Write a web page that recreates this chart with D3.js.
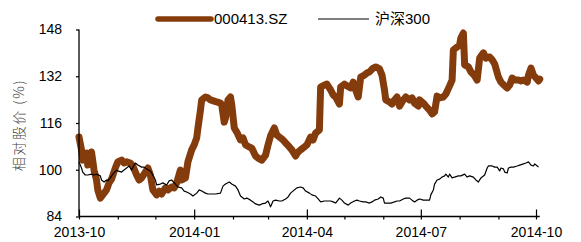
<!DOCTYPE html>
<html>
<head>
<meta charset="utf-8">
<script src="https://d3js.org/d3.v7.min.js"></script>
<style>
  html, body { margin: 0; padding: 0; background: #fff; }
  text { font-family: "Liberation Sans", Arial, sans-serif; }
</style>
</head>
<body>
<div id="chart"></div>
<script>
// chart size
var w = 581, h = 242;
var plotLeft = 79, plotRight = 536, plotTop = 29.5, plotBottom = 216.5;

// y ticks
var yTicks = [84, 100, 116, 132, 148];
var seriesNames = ["000413.SZ", "沪深300"];

// 000413.SZ, relative price (%)
var stockDates = [
  "2013-10-01","2013-10-03","2013-10-04","2013-10-05","2013-10-07","2013-10-08","2013-10-10","2013-10-11","2013-10-13","2013-10-15","2013-10-16","2013-10-18","2013-10-20","2013-10-23","2013-10-25","2013-10-27","2013-10-30",
  "2013-11-01","2013-11-04","2013-11-06","2013-11-08","2013-11-11","2013-11-13","2013-11-16","2013-11-18","2013-11-20","2013-11-23","2013-11-25","2013-11-27","2013-11-29",
  "2013-12-02","2013-12-04","2013-12-06","2013-12-09","2013-12-11","2013-12-14","2013-12-16","2013-12-18","2013-12-21","2013-12-22","2013-12-25","2013-12-27","2013-12-30",
  "2014-01-01","2014-01-03","2014-01-04","2014-01-06","2014-01-07","2014-01-10","2014-01-12","2014-01-14","2014-01-17","2014-01-19","2014-01-22","2014-01-23","2014-01-25","2014-01-26","2014-01-28","2014-01-30","2014-01-31",
  "2014-02-02","2014-02-04","2014-02-07","2014-02-09","2014-02-11","2014-02-14","2014-02-16","2014-02-19","2014-02-21","2014-02-24","2014-02-27",
  "2014-03-01","2014-03-03","2014-03-06","2014-03-08","2014-03-11","2014-03-13","2014-03-15","2014-03-18","2014-03-20","2014-03-23","2014-03-25","2014-03-27","2014-03-30",
  "2014-04-01","2014-04-04","2014-04-06","2014-04-08","2014-04-11","2014-04-12","2014-04-15","2014-04-17","2014-04-20","2014-04-22","2014-04-24","2014-04-27","2014-04-28",
  "2014-05-01","2014-05-03","2014-05-06","2014-05-08","2014-05-10","2014-05-12","2014-05-14","2014-05-17","2014-05-19","2014-05-21","2014-05-24","2014-05-26","2014-05-29","2014-05-31",
  "2014-06-02","2014-06-03","2014-06-06","2014-06-08","2014-06-10","2014-06-12","2014-06-14","2014-06-17","2014-06-19","2014-06-22","2014-06-24","2014-06-26","2014-06-29","2014-06-30",
  "2014-07-03","2014-07-05","2014-07-08","2014-07-10","2014-07-12","2014-07-14","2014-07-16","2014-07-19","2014-07-21","2014-07-24","2014-07-26","2014-07-27","2014-07-29",
  "2014-08-01","2014-08-02","2014-08-04","2014-08-05","2014-08-08","2014-08-10","2014-08-13","2014-08-15","2014-08-17","2014-08-20","2014-08-22","2014-08-25","2014-08-27","2014-08-29",
  "2014-09-01","2014-09-03","2014-09-06","2014-09-08","2014-09-10","2014-09-12","2014-09-14","2014-09-17","2014-09-19","2014-09-21","2014-09-24","2014-09-25","2014-09-27","2014-09-29",
  "2014-10-01","2014-10-03","2014-10-04"
];
var stockValues = [
  111.2,106.8,103.3,105.0,105.7,101.6,104.0,106.1,99.9,96.5,93.1,90.3,91.4,93.1,95.5,96.8,100.6,
  102.7,103.3,102.3,102.7,102.3,101.3,98.2,96.5,97.2,99.2,100.6,98.2,93.1,
  91.4,92.7,91.7,93.8,93.1,94.1,93.8,95.5,99.9,96.5,97.2,102.7,106.8,
  108.5,110.9,114.3,120.4,123.9,124.9,124.6,123.9,123.5,123.2,122.8,122.2,116.3,117.7,123.9,124.9,122.2,
  114.3,112.9,110.2,110.9,108.5,107.8,107.4,104.7,104.0,103.3,105.0,
  108.5,111.6,114.3,111.9,110.9,110.2,109.2,107.8,106.8,104.7,106.1,106.8,107.8,
  108.5,111.2,110.2,112.6,113.6,128.3,129.0,129.3,127.3,125.6,124.9,122.5,128.3,
  129.3,128.7,128.0,130.0,127.3,124.9,131.7,132.4,133.1,133.5,134.8,135.2,134.5,132.4,
  127.3,123.9,123.2,122.5,123.9,124.9,121.8,123.9,124.9,123.9,124.6,122.8,121.8,123.9,
  122.8,121.8,120.4,119.1,119.8,125.2,124.6,124.9,125.9,128.7,130.7,141.0,141.7,
  142.7,145.1,146.8,135.9,135.2,133.5,132.1,130.7,138.2,140.0,138.2,138.6,137.6,136.2,
  131.7,130.0,128.7,128.0,129.0,131.4,130.7,130.7,130.4,130.7,130.0,132.4,134.8,132.4,
  131.4,130.4,131.0
];

// 沪深300, relative (%)
var indexDates = [
  "2013-10-01","2013-10-03","2013-10-04","2013-10-06","2013-10-08","2013-10-11","2013-10-13","2013-10-15","2013-10-18","2013-10-19","2013-10-21","2013-10-23","2013-10-24","2013-10-26","2013-10-28","2013-10-31",
  "2013-11-01","2013-11-04","2013-11-06","2013-11-08","2013-11-10","2013-11-12","2013-11-14","2013-11-15","2013-11-17","2013-11-20","2013-11-22","2013-11-24","2013-11-27","2013-11-29",
  "2013-12-01","2013-12-02","2013-12-05","2013-12-07","2013-12-10","2013-12-12","2013-12-14","2013-12-17","2013-12-19","2013-12-22","2013-12-24","2013-12-26","2013-12-29","2013-12-31",
  "2014-01-03","2014-01-05","2014-01-07","2014-01-10","2014-01-12","2014-01-15","2014-01-18","2014-01-22","2014-01-24","2014-01-26","2014-01-29","2014-01-31",
  "2014-02-03","2014-02-05","2014-02-07","2014-02-10","2014-02-12","2014-02-15","2014-02-17","2014-02-19","2014-02-22","2014-02-24","2014-02-27",
  "2014-03-01","2014-03-03","2014-03-05","2014-03-07","2014-03-10","2014-03-12","2014-03-15","2014-03-17","2014-03-19","2014-03-22","2014-03-24","2014-03-27","2014-03-29","2014-03-31",
  "2014-04-03","2014-04-05","2014-04-08","2014-04-10","2014-04-12","2014-04-15","2014-04-17","2014-04-20","2014-04-22","2014-04-24","2014-04-27","2014-04-29",
  "2014-05-01","2014-05-04","2014-05-06","2014-05-09","2014-05-11","2014-05-13","2014-05-16","2014-05-18","2014-05-21","2014-05-23","2014-05-25","2014-05-28","2014-05-30",
  "2014-06-01","2014-06-02","2014-06-05","2014-06-07","2014-06-10","2014-06-12","2014-06-14","2014-06-17","2014-06-19","2014-06-22","2014-06-24","2014-06-26","2014-06-28","2014-06-30",
  "2014-07-03","2014-07-05","2014-07-08","2014-07-09","2014-07-11","2014-07-12","2014-07-14","2014-07-16","2014-07-18","2014-07-20","2014-07-21","2014-07-23","2014-07-24","2014-07-26","2014-07-28","2014-07-31",
  "2014-08-02","2014-08-05","2014-08-07","2014-08-09","2014-08-12","2014-08-14","2014-08-16","2014-08-18","2014-08-21","2014-08-23","2014-08-24","2014-08-27","2014-08-29","2014-08-31",
  "2014-09-02","2014-09-03","2014-09-05","2014-09-06","2014-09-08","2014-09-09","2014-09-11","2014-09-13","2014-09-16","2014-09-18","2014-09-21","2014-09-23","2014-09-25","2014-09-27","2014-09-29","2014-09-30",
  "2014-10-02","2014-10-03"
];
var indexValues = [
  102.7,100.6,99.2,98.2,98.2,98.5,98.2,98.5,97.9,96.5,95.8,96.5,96.2,97.2,98.5,99.9,
  99.6,99.2,99.9,100.6,101.3,99.9,101.6,102.3,101.6,100.9,100.9,100.3,99.6,98.2,
  96.5,94.8,95.1,95.5,94.8,96.2,96.5,95.1,94.1,93.8,92.7,92.4,91.7,91.0,
  92.0,93.1,92.7,92.0,91.7,91.7,91.7,92.0,94.4,95.1,95.8,95.1,
  94.4,93.1,91.0,90.0,90.3,89.6,89.0,88.3,87.9,88.3,88.6,
  89.3,87.3,89.3,89.6,89.3,89.3,90.0,90.7,92.0,93.1,93.8,94.1,93.8,92.7,
  92.0,91.4,91.0,90.0,89.0,89.3,89.3,89.3,89.0,88.6,90.3,89.6,
  88.6,87.9,88.6,89.3,89.6,89.3,89.0,89.0,88.6,89.0,89.6,90.0,90.7,
  90.3,88.6,88.6,88.6,89.0,89.3,89.3,90.0,90.3,90.3,89.6,89.0,89.6,90.0,
  89.6,89.6,89.6,91.4,93.1,95.1,96.5,96.8,97.5,97.9,98.5,97.5,98.5,97.2,97.5,97.9,
  97.9,98.5,97.5,97.9,97.5,96.5,95.8,97.2,98.2,100.6,101.3,101.3,100.9,100.9,
  99.6,100.6,100.3,99.2,98.9,100.6,100.9,100.9,101.3,101.6,102.0,102.3,102.7,101.6,101.3,102.0,
  101.3,100.9
];

var parseDate = d3.timeParse("%Y-%m-%d");
var stock = stockDates.map(function(d, i) { return {date: parseDate(d), value: stockValues[i]}; });
var index = indexDates.map(function(d, i) { return {date: parseDate(d), value: indexValues[i]}; });

// scales
var xScale = d3.scaleTime()
    .domain([parseDate("2013-10-01"), parseDate("2014-10-01")])
    .range([plotLeft, plotRight]);
var yScale = d3.scaleLinear().domain([84, 148]).range([plotBottom, plotTop]);
var xEnd = xScale(parseDate("2014-10-04"));

var svg = d3.select("#chart")
    .append("svg")
    .attr("width", w)
    .attr("height", h)
    .style("display", "block");

svg.append("rect").attr("width", w).attr("height", h).attr("fill", "#fff");

var line = d3.line()
    .x(function(d) { return xScale(d.date); })
    .y(function(d) { return yScale(d.value); });

// stock line (thick brown)
svg.append("path")
    .datum(stock)
    .attr("d", line)
    .attr("fill", "none")
    .attr("stroke", "#843C0C")
    .attr("stroke-width", 7)
    .attr("stroke-linejoin", "round")
    .attr("stroke-linecap", "round");

// index line (thin black)
svg.append("path")
    .datum(index)
    .attr("d", line)
    .attr("fill", "none")
    .attr("stroke", "#000")
    .attr("stroke-width", 1.2)
    .attr("stroke-linejoin", "round");

// y axis
var yAxis = d3.axisLeft(yScale).tickValues(yTicks).tickSize(3).tickPadding(14);
var gy = svg.append("g")
    .attr("transform", "translate(" + plotLeft + ",0)")
    .call(yAxis);
gy.select(".domain").attr("d", "M0," + plotTop + "V" + plotBottom).attr("stroke-width", 1.3);
gy.selectAll(".tick line").attr("stroke-width", 1.2);
gy.selectAll("text").style("font-size", "14px").attr("fill", "#000");

// x axis: monthly ticks outside, quarterly ticks also inside
var months = d3.timeMonth.range(parseDate("2013-10-01"), parseDate("2014-10-02"));
var xAxis = d3.axisBottom(xScale)
    .tickValues(months)
    .tickSize(3)
    .tickPadding(8)
    .tickFormat(function(d) { return d.getMonth() % 3 === 0 ? d3.timeFormat("%Y-%m")(d) : ""; });
var gx = svg.append("g")
    .attr("transform", "translate(0," + plotBottom + ")")
    .call(xAxis);
gx.select(".domain").attr("d", "M" + plotLeft + ",0H" + xEnd).attr("stroke-width", 1.3);
gx.selectAll(".tick line")
    .attr("stroke-width", 1.2)
    .attr("y1", function(d) { return d.getMonth() % 3 === 0 ? -7 : 0; });
gx.selectAll("text").style("font-size", "14px").attr("fill", "#000");

// y label
svg.append("text")
    .attr("transform", "translate(24,125) rotate(-90)")
    .attr("text-anchor", "middle")
    .style("font-family", "'Noto Sans CJK SC', sans-serif")
    .style("font-size", "14px")
    .style("font-weight", 300)
    .style("letter-spacing", "1.5px")
    .attr("fill", "#444")
    .text("相对股价 (%)");

// legend
var legend = svg.append("g");
legend.append("line")
    .attr("x1", 158).attr("x2", 211).attr("y1", 19).attr("y2", 19)
    .attr("stroke", "#843C0C").attr("stroke-width", 5.5).attr("stroke-linecap", "round");
legend.append("text")
    .attr("x", 214).attr("y", 24)
    .style("font-size", "15px")
    .text(seriesNames[0]);
legend.append("line")
    .attr("x1", 318).attr("x2", 369).attr("y1", 19).attr("y2", 19)
    .attr("stroke", "#000").attr("stroke-width", 1);
legend.append("text")
    .attr("x", 375).attr("y", 24)
    .style("font-size", "15px")
    .style("font-family", "'Liberation Sans', 'Noto Sans CJK SC', sans-serif")
    .text(seriesNames[1]);
</script>
</body>
</html>
